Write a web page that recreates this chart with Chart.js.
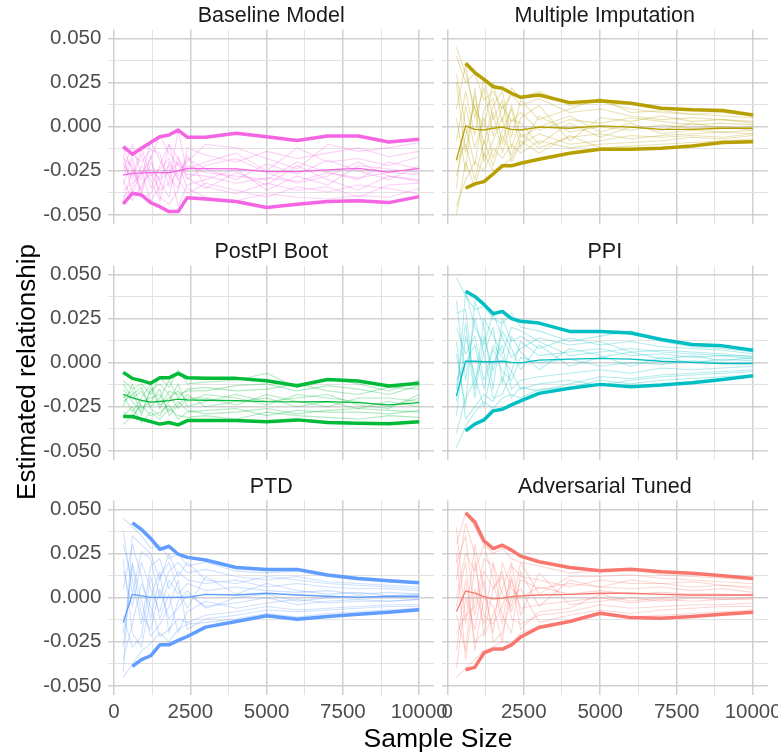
<!DOCTYPE html>
<html>
<head>
<meta charset="utf-8">
<script src="https://cdn.jsdelivr.net/npm/chart.js@4.4.1/dist/chart.umd.min.js"></script>
<style>
html,body{margin:0;padding:0;background:#fff;}
#wrap{position:relative;width:778px;height:754px;overflow:hidden;background:#fff;font-family:"Liberation Sans",Arial,sans-serif;}
#wrap canvas{position:absolute;}
#xtitle{position:absolute;left:288px;width:300px;top:724px;height:28px;line-height:28px;text-align:center;font-size:26.5px;color:#000;}
#ytitle{position:absolute;left:-124px;top:358px;width:300px;height:28px;line-height:28px;text-align:center;font-size:26px;color:#000;transform:rotate(-90deg);}
</style>
</head>
<body>
<div id="wrap">
<canvas id="c0" width="460" height="230" style="left:0px;top:0px"></canvas>
<canvas id="c1" width="378" height="230" style="left:400px;top:0px"></canvas>
<canvas id="c2" width="460" height="230" style="left:0px;top:235.7px"></canvas>
<canvas id="c3" width="378" height="230" style="left:400px;top:235.7px"></canvas>
<canvas id="c4" width="460" height="283" style="left:0px;top:471.4px"></canvas>
<canvas id="c5" width="378" height="283" style="left:400px;top:471.4px"></canvas>
<div id="xtitle">Sample Size</div>
<div id="ytitle">Estimated relationship</div>
</div>
<script>
// ---------------- data ----------------
const sampleSizes = [300, 600, 900, 1200, 1500, 1800, 2100, 2400, 3000, 4000, 5000, 6000, 7000, 8000, 9000, 10000];
const xTickValues = [0, 1250, 2500, 3750, 5000, 6250, 7500, 8750, 10000];
const yTickValues = [-0.05, -0.0375, -0.025, -0.0125, 0, 0.0125, 0.025, 0.0375, 0.05];
const panelNames = ["Baseline Model", "Multiple Imputation", "PostPI Boot", "PPI", "PTD", "Adversarial Tuned"];
const panelColors = ["#F564E3", "#B79F00", "#00BA38", "#00BFC4", "#619CFF", "#F8766D"];

const baselineUpper = [-0.0113, -0.0156, -0.0122, -0.0090, -0.0057, -0.0047, -0.0019, -0.0060, -0.0060, -0.0037, -0.0057, -0.0079, -0.0053, -0.0053, -0.0087, -0.0071];
const baselineMean  = [-0.0273, -0.0265, -0.0262, -0.0260, -0.0260, -0.0260, -0.0250, -0.0236, -0.0238, -0.0239, -0.0255, -0.0255, -0.0245, -0.0236, -0.0258, -0.0236];
const baselineLower = [-0.0437, -0.0377, -0.0387, -0.0430, -0.0453, -0.0481, -0.0481, -0.0402, -0.0409, -0.0424, -0.0458, -0.0439, -0.0424, -0.0420, -0.0430, -0.0396];
const baselineRuns = [
  [-0.020,-0.030,-0.015,-0.035,-0.022,-0.010,-0.028,-0.018,-0.024,-0.030,-0.021,-0.027,-0.019,-0.025,-0.030,-0.022],
  [-0.033,-0.018,-0.038,-0.020,-0.031,-0.040,-0.017,-0.029,-0.035,-0.026,-0.033,-0.022,-0.030,-0.036,-0.028,-0.031],
  [-0.012,-0.025,-0.030,-0.008,-0.019,-0.028,-0.035,-0.012,-0.016,-0.020,-0.014,-0.018,-0.015,-0.012,-0.017,-0.014],
  [-0.040,-0.035,-0.022,-0.030,-0.042,-0.020,-0.030,-0.038,-0.032,-0.036,-0.040,-0.034,-0.037,-0.033,-0.035,-0.038],
  [-0.025,-0.010,-0.027,-0.018,-0.005,-0.015,-0.022,-0.024,-0.020,-0.015,-0.025,-0.012,-0.020,-0.018,-0.022,-0.017],
  [-0.030,-0.042,-0.033,-0.026,-0.036,-0.032,-0.002,-0.027,-0.028,-0.032,-0.029,-0.031,-0.026,-0.029,-0.026,-0.027],
  [-0.018,-0.022,-0.040,-0.038,-0.028,-0.022,-0.045,-0.033,-0.030,-0.024,-0.036,-0.028,-0.033,-0.022,-0.024,-0.026],
  [-0.028,-0.016,-0.020,-0.013,-0.015,-0.034,-0.025,-0.020,-0.010,-0.012,-0.018,-0.024,-0.010,-0.014,-0.012,-0.009],
  [-0.036,-0.032,-0.026,-0.024,-0.030,-0.026,-0.020,-0.035,-0.040,-0.042,-0.038,-0.040,-0.041,-0.039,-0.040,-0.035],
  [-0.022,-0.028,-0.012,-0.028,-0.024,-0.018,-0.030,-0.022,-0.026,-0.028,-0.030,-0.020,-0.026,-0.030,-0.020,-0.024],
  [-0.015,-0.038,-0.025,-0.042,-0.034,-0.010,-0.018,-0.030,-0.022,-0.018,-0.026,-0.032,-0.028,-0.020,-0.028,-0.030],
  [-0.042,-0.024,-0.036,-0.016,-0.040,-0.044,-0.036,-0.016,-0.034,-0.038,-0.032,-0.036,-0.034,-0.040,-0.033,-0.032]
];

const miUpper = [null, 0.0359, 0.0306, 0.0268, 0.0226, 0.0217, 0.0189, 0.0166, 0.0179, 0.0136, 0.0147, 0.0132, 0.0104, 0.0095, 0.0091, 0.0066];
const miMean  = [-0.0188, 0.0004, -0.0015, -0.0019, -0.0009, -0.0003, -0.0015, -0.0019, -0.0003, -0.0009, 0.0004, -0.0003, -0.0015, -0.0015, -0.0009, -0.0009];
const miLower = [null, -0.0349, -0.0324, -0.0311, -0.0268, -0.0222, -0.0222, -0.0207, -0.0185, -0.0151, -0.0128, -0.0128, -0.0122, -0.0109, -0.0090, -0.0085];
const miRuns = [
  [0.040,0.025,0.030,0.015,0.020,0.010,0.018,0.012,0.016,0.008,0.010,0.006,0.004,0.005,0.004,0.003],
  [-0.045,-0.030,-0.020,-0.025,-0.012,-0.018,-0.010,-0.015,-0.008,-0.012,-0.010,-0.009,-0.008,-0.006,-0.007,-0.005],
  [0.010,0.035,0.005,0.022,-0.005,0.012,0.003,0.008,-0.002,0.004,0.002,0.005,0.003,0.001,0.002,0.001],
  [-0.020,-0.010,-0.030,-0.008,-0.022,-0.005,-0.016,-0.004,-0.012,-0.006,-0.004,-0.007,-0.005,-0.004,-0.003,-0.004],
  [0.025,-0.015,0.018,-0.010,0.012,0.020,-0.006,0.015,0.004,0.010,0.016,0.008,0.009,0.007,0.006,0.005],
  [-0.035,0.012,-0.012,0.005,-0.018,-0.002,0.010,-0.012,0.006,-0.003,0.000,-0.002,0.001,-0.001,0.000,-0.002],
  [0.005,-0.025,0.022,-0.018,0.008,-0.015,0.004,0.002,-0.010,0.002,-0.006,0.000,-0.002,0.002,-0.001,0.000],
  [-0.008,0.020,-0.005,0.028,0.004,0.015,-0.012,0.005,0.012,-0.008,0.005,0.003,0.006,0.003,0.004,0.002],
  [0.030,0.000,-0.022,0.010,0.016,-0.010,0.012,-0.006,0.000,0.006,-0.003,0.002,-0.004,-0.002,-0.003,-0.002],
  [-0.028,-0.005,0.012,-0.020,-0.008,0.005,-0.020,-0.010,-0.004,-0.010,-0.008,-0.005,-0.006,-0.005,-0.006,-0.004],
  [0.045,0.030,0.010,0.000,0.025,0.003,0.022,0.016,0.020,0.012,0.014,0.010,0.008,0.007,0.008,0.006],
  [-0.050,-0.020,-0.034,-0.015,-0.025,-0.022,-0.018,-0.008,-0.015,-0.005,-0.012,-0.011,-0.010,-0.009,-0.008,-0.007]
];

const postpiUpper = [-0.0055, -0.0089, -0.0102, -0.0117, -0.0086, -0.0086, -0.0061, -0.0086, -0.0089, -0.0089, -0.0102, -0.0131, -0.0095, -0.0104, -0.0132, -0.0117];
const postpiMean  = [-0.0179, -0.0200, -0.0213, -0.0224, -0.0220, -0.0215, -0.0207, -0.0211, -0.0213, -0.0215, -0.0221, -0.0222, -0.0221, -0.0226, -0.0239, -0.0226];
const postpiLower = [-0.0305, -0.0305, -0.0320, -0.0334, -0.0348, -0.0339, -0.0352, -0.0328, -0.0328, -0.0328, -0.0334, -0.0324, -0.0339, -0.0343, -0.0346, -0.0334];
const postpiRuns = [
  [-0.010,-0.015,-0.012,-0.018,-0.008,-0.014,-0.004,-0.012,-0.011,-0.010,-0.006,-0.014,-0.009,-0.012,-0.016,-0.010],
  [-0.030,-0.025,-0.034,-0.028,-0.032,-0.026,-0.030,-0.031,-0.030,-0.032,-0.028,-0.030,-0.031,-0.032,-0.030,-0.031],
  [-0.018,-0.028,-0.020,-0.012,-0.024,-0.020,-0.016,-0.022,-0.018,-0.020,-0.024,-0.018,-0.020,-0.022,-0.025,-0.020],
  [-0.025,-0.012,-0.026,-0.022,-0.015,-0.030,-0.024,-0.018,-0.025,-0.022,-0.020,-0.025,-0.022,-0.026,-0.022,-0.025],
  [-0.012,-0.020,-0.016,-0.025,-0.020,-0.010,-0.020,-0.015,-0.014,-0.016,-0.015,-0.012,-0.016,-0.018,-0.014,-0.015],
  [-0.035,-0.030,-0.024,-0.030,-0.028,-0.024,-0.032,-0.028,-0.027,-0.026,-0.030,-0.027,-0.028,-0.028,-0.029,-0.027],
  [-0.015,-0.022,-0.028,-0.016,-0.012,-0.018,-0.026,-0.020,-0.020,-0.024,-0.018,-0.022,-0.025,-0.020,-0.020,-0.022],
  [-0.022,-0.018,-0.014,-0.026,-0.030,-0.022,-0.012,-0.025,-0.022,-0.018,-0.022,-0.020,-0.018,-0.024,-0.026,-0.018],
  [-0.028,-0.032,-0.022,-0.020,-0.018,-0.028,-0.022,-0.027,-0.029,-0.028,-0.026,-0.029,-0.027,-0.026,-0.027,-0.028],
  [-0.020,-0.016,-0.030,-0.014,-0.026,-0.016,-0.018,-0.016,-0.016,-0.013,-0.012,-0.016,-0.013,-0.015,-0.018,-0.013]
];

const ppiUpper = [null, 0.0404, 0.0375, 0.0330, 0.0277, 0.0290, 0.0249, 0.0234, 0.0224, 0.0177, 0.0177, 0.0168, 0.0131, 0.0103, 0.0095, 0.0070];
const ppiMean  = [-0.0189, 0.0008, 0.0008, 0.0005, 0.0005, 0.0008, 0.0001, -0.0001, 0.0014, 0.0020, 0.0024, 0.0020, 0.0008, 0.0001, -0.0005, -0.0005];
const ppiLower = [null, -0.0386, -0.0348, -0.0324, -0.0273, -0.0264, -0.0239, -0.0217, -0.0174, -0.0145, -0.0123, -0.0136, -0.0127, -0.0114, -0.0095, -0.0074];
const ppiRuns = [
  [0.048,0.038,0.030,0.032,0.025,0.022,0.028,0.020,0.018,0.012,0.015,0.018,0.012,0.009,0.008,0.006],
  [-0.048,-0.036,-0.028,-0.022,-0.026,-0.020,-0.018,-0.020,-0.015,-0.014,-0.010,-0.012,-0.010,-0.009,-0.008,-0.007],
  [0.020,0.005,0.015,-0.010,0.010,0.003,-0.005,0.012,0.004,0.006,0.008,0.004,0.005,0.003,0.004,0.002],
  [-0.015,0.022,-0.020,0.015,-0.005,0.018,0.008,-0.004,0.010,-0.002,0.003,0.006,0.002,0.004,0.001,0.003],
  [0.035,-0.010,0.025,0.005,0.020,-0.012,0.015,0.006,-0.004,0.008,0.004,-0.002,0.003,0.000,0.002,0.001],
  [-0.030,0.015,-0.008,-0.025,0.000,0.010,-0.015,-0.010,-0.008,-0.006,-0.004,-0.006,-0.003,-0.004,-0.003,-0.002],
  [0.005,-0.025,0.035,0.020,-0.015,0.025,0.012,0.015,0.008,0.014,0.010,0.012,0.009,0.008,0.007,0.005],
  [-0.040,-0.020,-0.010,0.005,-0.020,-0.018,-0.005,-0.015,-0.012,-0.010,-0.013,-0.010,-0.008,-0.007,-0.006,-0.005],
  [0.028,0.030,-0.015,0.025,0.015,0.005,0.020,0.018,0.012,0.004,0.006,0.008,0.006,0.005,0.004,0.004],
  [-0.010,0.000,0.010,-0.015,0.008,-0.005,-0.010,0.003,0.000,0.002,-0.002,0.000,-0.001,0.001,0.000,0.000],
  [0.012,-0.032,-0.025,-0.018,-0.022,-0.008,-0.020,-0.014,-0.016,-0.012,-0.008,-0.009,-0.007,-0.006,-0.005,-0.004],
  [-0.022,0.040,0.020,0.010,0.028,0.014,0.003,0.008,0.014,0.010,0.012,0.006,0.007,0.006,0.005,0.003]
];

const ptdUpper = [null, 0.0423, 0.0386, 0.0335, 0.0273, 0.0291, 0.0246, 0.0228, 0.0213, 0.0171, 0.0160, 0.0160, 0.0128, 0.0109, 0.0096, 0.0085];
const ptdMean  = [-0.0141, 0.0019, 0.0010, 0.0002, 0.0002, 0.0002, 0.0003, 0.0002, 0.0019, 0.0015, 0.0025, 0.0015, 0.0008, 0.0002, 0.0008, 0.0008];
const ptdLower = [null, -0.0389, -0.0351, -0.0329, -0.0267, -0.0267, -0.0242, -0.0220, -0.0167, -0.0135, -0.0103, -0.0122, -0.0107, -0.0094, -0.0082, -0.0069];
const ptdRuns = [
  [0.045,0.040,0.035,0.028,0.030,0.022,0.025,0.018,0.020,0.015,0.014,0.015,0.012,0.010,0.009,0.008],
  [-0.045,-0.038,-0.030,-0.026,-0.020,-0.025,-0.018,-0.015,-0.014,-0.012,-0.009,-0.011,-0.009,-0.008,-0.007,-0.006],
  [0.015,-0.005,0.020,0.005,-0.008,0.010,0.002,0.008,0.004,0.006,0.004,0.003,0.004,0.002,0.003,0.002],
  [-0.020,0.018,-0.010,-0.018,0.005,-0.012,-0.006,0.002,-0.005,-0.003,0.000,-0.004,-0.002,-0.001,-0.002,-0.001],
  [0.030,0.010,-0.015,0.018,0.022,0.005,0.015,0.010,0.008,0.010,0.006,0.008,0.006,0.005,0.005,0.004],
  [-0.035,-0.015,0.008,-0.005,-0.022,-0.018,-0.012,-0.014,-0.010,-0.008,-0.005,-0.007,-0.006,-0.005,-0.004,-0.004],
  [0.005,0.030,0.012,-0.012,0.012,0.020,0.005,-0.006,0.012,0.002,0.008,0.004,0.002,0.003,0.001,0.002],
  [-0.010,-0.028,-0.022,0.012,-0.012,0.002,-0.020,-0.008,-0.002,-0.006,-0.003,-0.001,-0.003,-0.002,-0.002,-0.001],
  [0.038,0.002,0.026,0.022,0.000,0.015,0.020,0.014,0.016,0.012,0.010,0.012,0.009,0.008,0.007,0.006],
  [-0.028,0.020,-0.002,-0.022,-0.015,-0.005,0.010,-0.018,-0.012,-0.010,-0.007,-0.008,-0.007,-0.006,-0.005,-0.005],
  [0.022,-0.020,-0.028,0.000,0.015,-0.020,-0.002,0.004,-0.006,0.000,0.002,-0.002,0.000,0.001,0.000,0.000],
  [-0.042,0.035,0.030,0.025,0.010,0.025,0.012,0.020,0.010,0.008,0.012,0.010,0.008,0.007,0.006,0.005]
];

const advUpper = [null, 0.0481, 0.0428, 0.0321, 0.0278, 0.0297, 0.0269, 0.0235, 0.0203, 0.0171, 0.0152, 0.0161, 0.0147, 0.0138, 0.0124, 0.0109];
const advMean  = [-0.0079, 0.0038, 0.0025, 0.0006, -0.0007, -0.0003, 0.0006, 0.0010, 0.0015, 0.0019, 0.0025, 0.0025, 0.0019, 0.0015, 0.0015, 0.0015];
const advLower = [null, -0.0408, -0.0395, -0.0313, -0.0291, -0.0291, -0.0267, -0.0223, -0.0169, -0.0135, -0.0088, -0.0113, -0.0116, -0.0107, -0.0094, -0.0082];
const advRuns = [
  [0.030,0.048,0.040,0.030,0.025,0.028,0.022,0.020,0.018,0.014,0.015,0.016,0.013,0.012,0.011,0.010],
  [-0.045,-0.040,-0.035,-0.030,-0.028,-0.025,-0.026,-0.020,-0.016,-0.013,-0.008,-0.011,-0.010,-0.009,-0.008,-0.007],
  [0.020,0.035,-0.010,0.015,0.005,0.012,-0.008,0.010,0.005,0.008,0.006,0.005,0.006,0.004,0.005,0.003],
  [-0.010,-0.030,0.020,-0.010,-0.015,-0.005,0.010,-0.006,-0.004,-0.002,0.000,-0.003,-0.001,-0.002,-0.001,-0.001],
  [0.000,0.025,0.015,0.030,0.010,-0.015,0.018,0.012,0.010,0.006,0.010,0.008,0.008,0.006,0.007,0.005],
  [-0.030,0.010,-0.025,-0.020,0.005,0.015,-0.012,-0.015,-0.010,-0.008,-0.004,-0.006,-0.005,-0.004,-0.004,-0.003],
  [0.040,-0.015,0.030,0.005,-0.020,0.020,0.005,0.000,0.006,0.002,0.004,0.002,0.003,0.002,0.002,0.001],
  [-0.020,-0.010,-0.005,0.022,0.018,-0.010,-0.020,0.015,-0.005,0.010,0.006,0.010,0.008,0.009,0.007,0.006],
  [0.010,0.042,0.025,-0.022,-0.010,0.005,0.020,-0.010,0.014,-0.004,-0.002,0.000,-0.002,0.000,-0.001,0.000],
  [-0.040,0.000,-0.018,0.010,-0.025,-0.020,0.000,0.005,-0.014,-0.010,-0.007,-0.009,-0.007,-0.006,-0.005,-0.005],
  [0.025,-0.035,0.005,-0.015,0.020,0.002,-0.005,0.020,0.002,0.012,0.012,0.013,0.011,0.010,0.009,0.008],
  [-0.005,0.020,-0.030,0.000,-0.005,-0.025,0.012,-0.018,-0.008,-0.006,0.002,-0.002,0.000,0.001,0.001,0.002]
];

// ---------------- drawing ----------------
const panelSeries = [
  {upper: baselineUpper, mean: baselineMean, lower: baselineLower, runs: baselineRuns},
  {upper: miUpper, mean: miMean, lower: miLower, runs: miRuns},
  {upper: postpiUpper, mean: postpiMean, lower: postpiLower, runs: postpiRuns},
  {upper: ppiUpper, mean: ppiMean, lower: ppiLower, runs: ppiRuns},
  {upper: ptdUpper, mean: ptdMean, lower: ptdLower, runs: ptdRuns},
  {upper: advUpper, mean: advMean, lower: advLower, runs: advRuns}
];

const FONT = '"Liberation Sans", Arial, sans-serif';
const GRID_MAJOR = '#d0d0d0';
const GRID_MINOR = '#e2e2e2';

function rgba(hex, a) {
  const n = parseInt(hex.slice(1), 16);
  return 'rgba(' + ((n >> 16) & 255) + ',' + ((n >> 8) & 255) + ',' + (n & 255) + ',' + a + ')';
}
function pts(arr) { return sampleSizes.map((x, i) => ({x: x, y: arr[i]})); }
function isMajorY(v) { return Math.abs(Math.round(v / 0.025) * 0.025 - v) < 1e-9; }
function isMajorX(v) { return Math.abs(v % 2500) < 1e-9; }

function lineDs(arr, color, width) {
  return {data: pts(arr), borderColor: color, borderWidth: width, pointRadius: 0,
          tension: 0, fill: false, borderJoinStyle: 'round', borderCapStyle: 'butt', spanGaps: false};
}

for (let p = 0; p < 6; p++) {
  const col = p % 2;          // 0 = left, 1 = right
  const row = Math.floor(p / 2);
  const s = panelSeries[p];
  const color = panelColors[p];
  const bottomRow = row === 2;
  const yW = col === 0 ? 108.4 : 41.6;
  const padR = col === 0 ? 26 : 10;
  const xH = bottomRow ? (283 - 223.8) : 0;
  const padB = bottomRow ? 0 : (230 - 223.8);

  const datasets = [
    lineDs(s.upper, color, 3.5),
    lineDs(s.lower, color, 3.5),
    lineDs(s.mean, color, 1.3)
  ];
  s.runs.forEach(r => datasets.push(lineDs(r, rgba(color, 0.3), 1.1)));

  new Chart(document.getElementById('c' + p), {
    type: 'line',
    data: {datasets: datasets},
    options: {
      responsive: false,
      animation: false,
      devicePixelRatio: 1,
      events: [],
      layout: {padding: {left: 0, top: 0, right: padR, bottom: padB}},
      plugins: {
        legend: {display: false},
        tooltip: {enabled: false},
        title: {
          display: true, text: panelNames[p], color: '#1a1a1a', fullSize: false,
          font: {family: FONT, size: 21.5, weight: 'normal', lineHeight: 1.2},
          padding: {top: 3.2, bottom: 0.5}
        }
      },
      scales: {
        x: {
          type: 'linear', min: -185, max: 10485,
          afterBuildTicks: sc => { sc.ticks = xTickValues.map(v => ({value: v})); },
          afterFit: sc => { sc.height = xH; sc.paddingLeft = 0; sc.paddingRight = 0; },
          border: {display: false},
          grid: {
            drawTicks: false,
            color: c => (c.tick && isMajorX(c.tick.value)) ? GRID_MAJOR : GRID_MINOR,
            lineWidth: c => (c.tick && isMajorX(c.tick.value)) ? 1.5 : 1
          },
          ticks: {
            display: bottomRow, autoSkip: false, maxRotation: 0, minRotation: 0, padding: 5,
            color: '#4d4d4d', font: {family: FONT, size: 20.5},
            callback: v => isMajorX(v) ? String(v) : ''
          }
        },
        y: {
          type: 'linear', min: -0.055, max: 0.055,
          afterBuildTicks: sc => { sc.ticks = yTickValues.map(v => ({value: v})); },
          afterFit: sc => { sc.width = yW; sc.paddingTop = 0; sc.paddingBottom = 0; },
          border: {display: false},
          grid: {
            drawTicks: false,
            color: c => (c.tick && isMajorY(c.tick.value)) ? GRID_MAJOR : GRID_MINOR,
            lineWidth: c => (c.tick && isMajorY(c.tick.value)) ? 1.5 : 1
          },
          ticks: {
            display: col === 0, autoSkip: false, padding: 7,
            color: '#4d4d4d', font: {family: FONT, size: 20.5},
            callback: v => isMajorY(v) ? v.toFixed(3) : ''
          }
        }
      }
    }
  });
}
</script>
</body>
</html>
